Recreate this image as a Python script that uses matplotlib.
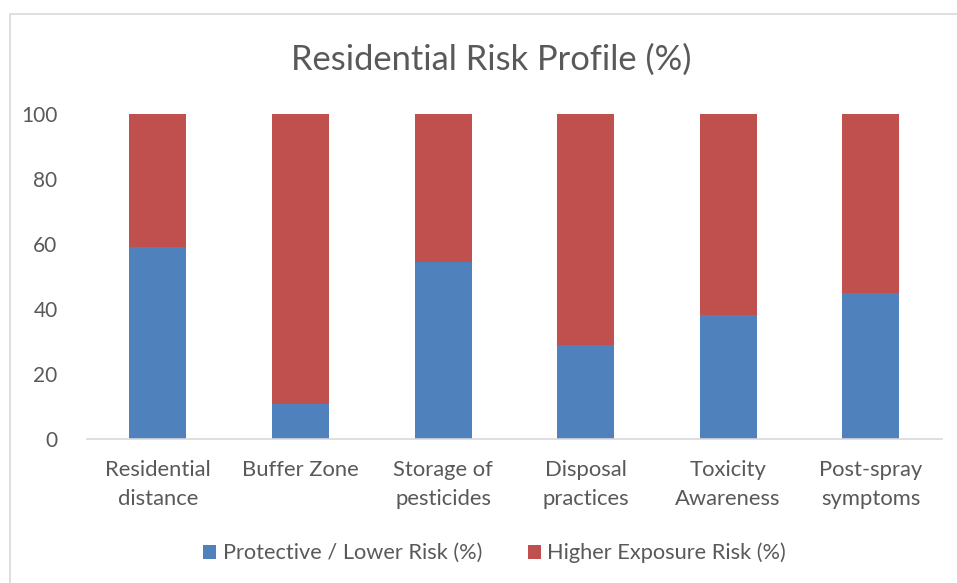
import matplotlib
matplotlib.use("Agg")
import matplotlib.pyplot as plt
from matplotlib.patches import Rectangle
import numpy as np

plt.rcParams['font.family'] = ['Lato', 'DejaVu Sans']

categories = ['Residential\ndistance', 'Buffer Zone', 'Storage of\npesticides',
              'Disposal\npractices', 'Toxicity\nAwareness', 'Post-spray\nsymptoms']
protective = [59, 10.8, 54.4, 28.9, 38.3, 44.9]
higher_risk = [100 - p for p in protective]
yticks = [0, 20, 40, 60, 80, 100]

blue = '#4F81BD'
red = '#C0504D'
txt = '#595959'
grid = '#D9D9D9'

fig = plt.figure(figsize=(9.57, 5.83), dpi=100)
ax = fig.add_axes([86.7/957, 1 - 439.3/583, (942 - 86.7)/957, (439.3 - 114)/583])

x = np.arange(len(categories))
ax.bar(x, protective, width=0.4, color=blue, label='Protective / Lower Risk (%)')
ax.bar(x, higher_risk, width=0.4, bottom=protective, color=red,
       label='Higher Exposure Risk (%)')

ax.set_xlim(-0.5, len(categories) - 0.5)
ax.set_ylim(0, 100)
ax.set_yticks(yticks)
ax.set_xticks(x)
ax.set_xticklabels(categories, linespacing=1.55)
ax.tick_params(axis='x', length=0, labelsize=15.8, colors=txt, pad=15)
ax.tick_params(axis='y', length=0, labelsize=15, colors=txt, pad=21)

for s in ['top', 'right', 'left']:
    ax.spines[s].set_visible(False)
ax.spines['bottom'].set_color(grid)
ax.spines['bottom'].set_linewidth(1.2)

fig.text(491/957, 1 - 60/583, 'Residential Risk Profile (%)', ha='center', va='center',
         fontsize=24.8, color=txt)

leg = fig.legend(loc='center', bbox_to_anchor=(494.5/957, 1 - 553/583), ncol=2, frameon=False,
                 fontsize=15.7, handlelength=0.6, handleheight=0.6, handletextpad=0.3,
                 columnspacing=2.1, labelcolor=txt)

# chart border
fig.patches.append(Rectangle((10/957, -0.05), 1.2, 1 - 14/583 + 0.05, transform=fig.transFigure,
                             fill=False, edgecolor=grid, linewidth=1.2))

fig.savefig('out.png', dpi=100)
